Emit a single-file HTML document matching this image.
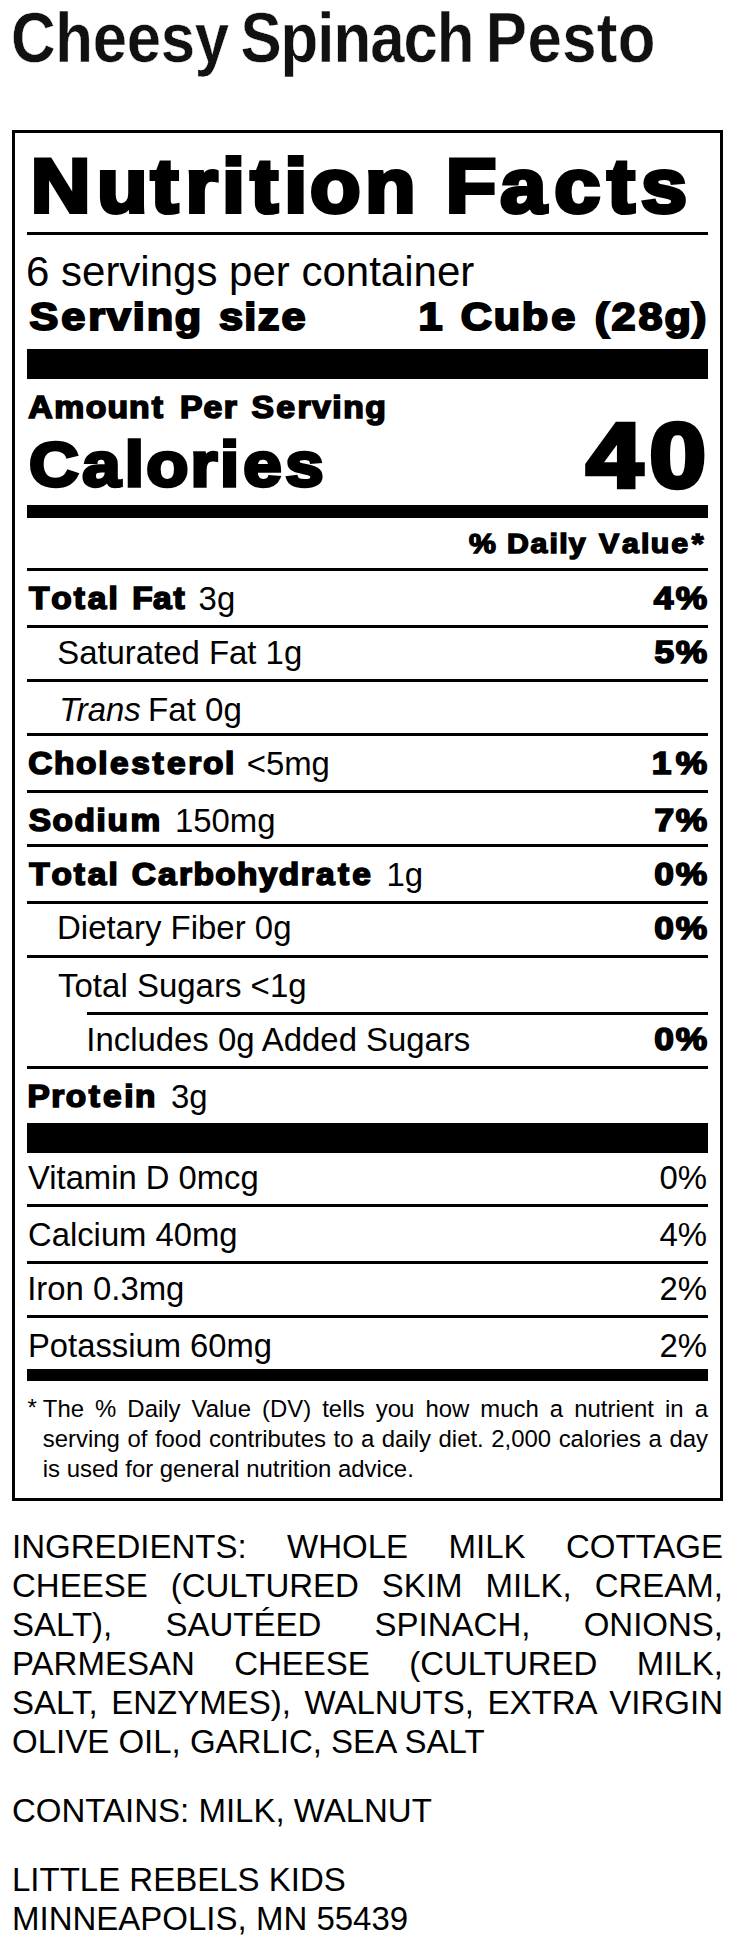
<!DOCTYPE html>
<html lang="en"><head><meta charset="utf-8"><title>Cheesy Spinach Pesto</title>
<style>
html,body{margin:0;padding:0;background:#fff;}
body{width:735px;height:1947px;position:relative;overflow:hidden;font-family:"Liberation Sans", sans-serif;color:#000;}
.t{position:absolute;white-space:nowrap;line-height:1;transform-origin:0 0;margin:0;padding:0;}
.j{position:absolute;line-height:1;margin:0;padding:0;text-align:justify;text-align-last:justify;white-space:normal;}
.jl{text-align:left;text-align-last:left;}
.b{font-weight:bold;}
.i{font-style:italic;}
.r0{position:absolute;background:#000;}
#box{position:absolute;left:12px;top:130px;width:705px;height:1365px;border:3px solid #000;}
#hv{position:absolute;left:0;top:0;width:735px;height:1947px;overflow:visible;}
#hv text{font-family:"Liberation Sans", sans-serif;font-weight:bold;fill:#000;stroke:#000;paint-order:fill stroke;stroke-linejoin:miter;white-space:pre;}
</style></head><body>
<div id="box"></div>
<div class="r0" style="left:27px;top:232px;width:681px;height:3px"></div>
<div class="r0" style="left:27px;top:349px;width:681px;height:30px"></div>
<div class="r0" style="left:27px;top:505px;width:681px;height:12.5px"></div>
<div class="r0" style="left:27px;top:568px;width:681px;height:3px"></div>
<div class="r0" style="left:27px;top:625px;width:681px;height:3px"></div>
<div class="r0" style="left:27px;top:679px;width:681px;height:3px"></div>
<div class="r0" style="left:27px;top:733px;width:681px;height:3px"></div>
<div class="r0" style="left:27px;top:790px;width:681px;height:3px"></div>
<div class="r0" style="left:27px;top:844px;width:681px;height:3px"></div>
<div class="r0" style="left:27px;top:901px;width:681px;height:3px"></div>
<div class="r0" style="left:27px;top:955px;width:681px;height:3px"></div>
<div class="r0" style="left:27px;top:1066px;width:681px;height:3px"></div>
<div class="r0" style="left:87px;top:1012px;width:621px;height:3px"></div>
<div class="r0" style="left:27px;top:1123px;width:681px;height:30px"></div>
<div class="r0" style="left:27px;top:1204px;width:681px;height:3px"></div>
<div class="r0" style="left:27px;top:1261px;width:681px;height:3px"></div>
<div class="r0" style="left:27px;top:1315px;width:681px;height:3px"></div>
<div class="r0" style="left:27px;top:1369px;width:681px;height:12px"></div>
<div class="t" style="left:26.00px;top:251px;font-size:42px;">6 servings per container</div>
<div class="t" style="left:198.60px;top:583px;font-size:32.9px;">3g</div>
<div class="t" style="left:57.20px;top:637px;font-size:32.9px;">Saturated Fat 1g</div>
<div class="t i" style="left:59.20px;top:694px;font-size:32.9px;">Trans</div>
<div class="t" style="left:147.79px;top:694px;font-size:32.9px;transform:scaleX(1.0072);">Fat 0g</div>
<div class="t" style="left:246.70px;top:748px;font-size:32.9px;">&lt;5mg</div>
<div class="t" style="left:174.90px;top:805px;font-size:32.9px;">150mg</div>
<div class="t" style="left:386.40px;top:859px;font-size:32.9px;">1g</div>
<div class="t" style="left:56.80px;top:912px;font-size:32.9px;transform:scaleX(1.0022);">Dietary Fiber 0g</div>
<div class="t" style="left:58.00px;top:970px;font-size:32.9px;transform:scaleX(1.0034);">Total Sugars &lt;1g</div>
<div class="t" style="left:86.30px;top:1024px;font-size:32.9px;">Includes 0g Added Sugars</div>
<div class="t" style="left:171.00px;top:1081px;font-size:32.9px;">3g</div>
<div class="t" style="left:28.20px;top:1162px;font-size:32.9px;transform:scaleX(0.9963);">Vitamin D 0mcg</div>
<div class="t" style="left:659.51px;top:1162px;font-size:32.9px;">0%</div>
<div class="t" style="left:28.00px;top:1219px;font-size:32.9px;transform:scaleX(0.9970);">Calcium 40mg</div>
<div class="t" style="left:659.51px;top:1219px;font-size:32.9px;">4%</div>
<div class="t" style="left:27.20px;top:1273px;font-size:32.9px;">Iron 0.3mg</div>
<div class="t" style="left:659.51px;top:1273px;font-size:32.9px;">2%</div>
<div class="t" style="left:28.21px;top:1330px;font-size:32.9px;transform:scaleX(0.9964);">Potassium 60mg</div>
<div class="t" style="left:659.51px;top:1330px;font-size:32.9px;">2%</div>
<div class="t" style="left:27.60px;top:1396px;font-size:23.93px;">*</div>
<div class="j" style="left:42.8px;top:1397px;width:665.2px;font-size:23.93px;">The % Daily Value (DV) tells you how much a nutrient in a</div>
<div class="j" style="left:42.8px;top:1427px;width:665.2px;font-size:23.93px;">serving of food contributes to a daily diet. 2,000 calories a day</div>
<div class="j jl" style="left:42.8px;top:1457px;width:665.2px;font-size:23.93px;">is used for general nutrition advice.</div>
<div class="j" style="left:12px;top:1530px;width:711px;font-size:33px;">INGREDIENTS: WHOLE MILK COTTAGE</div>
<div class="j" style="left:12px;top:1569px;width:711px;font-size:33px;">CHEESE (CULTURED SKIM MILK, CREAM,</div>
<div class="j" style="left:12px;top:1608px;width:711px;font-size:33px;">SALT), SAUTÉED SPINACH, ONIONS,</div>
<div class="j" style="left:12px;top:1647px;width:711px;font-size:33px;">PARMESAN CHEESE (CULTURED MILK,</div>
<div class="j" style="left:12px;top:1686px;width:711px;font-size:33px;">SALT, ENZYMES), WALNUTS, EXTRA VIRGIN</div>
<div class="j jl" style="left:12px;top:1725px;width:711px;font-size:33px;">OLIVE OIL, GARLIC, SEA SALT</div>
<div class="j jl" style="left:12px;top:1794px;width:711px;font-size:33px;">CONTAINS: MILK, WALNUT</div>
<div class="j jl" style="left:12px;top:1863px;width:711px;font-size:33px;">LITTLE REBELS KIDS</div>
<div class="j jl" style="left:12px;top:1902px;width:711px;font-size:33px;">MINNEAPOLIS, MN 55439</div>
<svg id="hv" width="735" height="1947" viewBox="0 0 735 1947">
<text transform="translate(0 61.81) scale(0.8750 1)" font-size="70.5" stroke-width="0.42" style="stroke:#fff;fill:#111;" x="12.67 63.18 105.89 144.76 183.63 222.5 261.71 274.8 320.47 362.59 381.24 423.07 461.1 499.07 542.13 555.15 602.73 642.45 682.06 705.97" y="0">Cheesy Spinach Pesto</text>
<text transform="translate(0 211.88) scale(1.0900 1)" font-size="75.98" stroke-width="4.05" x="28.2 89.05 138.27 170.08 203.76 229.87 260.87 284.51 334.97 381.38 409.06 458.91 508.45 557.12 588.12" y="0">Nutrition Facts</text>
<text transform="translate(0 329.74) scale(1.0900 1)" font-size="39.68" stroke-width="2.11" x="27.04 56.12 80.93 98.02 121.81 134.55 160.36 184.6 200.92 224.17 236.46 258.32" y="0">Serving size</text>
<text transform="translate(0 329.74) scale(1.0900 1)" font-size="39.68" stroke-width="2.11" x="384 406.07 422.75 452.93 478.75 505.66 527.73 545.71 560.96 585.82 609.59 634.78" y="0">1 Cube (28g)</text>
<text transform="translate(0 417.68) scale(1.0900 1)" font-size="30.95" stroke-width="1.65" x="25.85 49.68 78.75 98.57 118.39 139.2 149.51 165.22 186.75 205.18 217.23 230.71 253.45 272.85 286.23 304.83 314.81 335" y="0">Amount Per Serving</text>
<text transform="translate(0 485.71) scale(1.0900 1)" font-size="63.32" stroke-width="3.38" x="26.59 75.51 114.53 134.2 174.79 201.79 223.2 261.81" y="0">Calories</text>
<text transform="translate(0 487.14) scale(1.1100 1)" font-size="91.48" stroke-width="4.73" x="528.24 585.21" y="0">40</text>
<text transform="translate(0 552.66) scale(1.0900 1)" font-size="27.77" stroke-width="1.48" x="430.2 454.89 465.15 486.82 504.09 513.02 521.81 537.25 549.64 570.72 588.1 597 615.8 634.65" y="0">% Daily Value*</text>
<text transform="translate(0 608.98) scale(1.0900 1)" font-size="30.67" stroke-width="1.64" x="26.69 47.09 67.68 80.58 99.54 108.06 121.38 140.48 159.12" y="0">Total Fat</text>
<text transform="translate(0 608.98) scale(1.1200 1)" font-size="31.56" stroke-width="1.64" x="583.67 603.36" y="0">4%</text>
<text transform="translate(0 662.98) scale(1.1200 1)" font-size="31.56" stroke-width="1.64" x="584.27 603.36" y="0">5%</text>
<text transform="translate(0 774.08) scale(1.0900 1)" font-size="30.67" stroke-width="1.64" x="25.82 49.48 69.75 90.05 100.97 120.39 139.84 153.29 172.73 186.21 206.51" y="0">Cholesterol</text>
<text transform="translate(0 773.98) scale(1.1200 1)" font-size="31.56" stroke-width="1.64" x="581.93 603.36" y="0">1%</text>
<text transform="translate(0 831.18) scale(1.0900 1)" font-size="30.67" stroke-width="1.64" x="26.3 48.2 68.39 88.64 98.68 119.65" y="0">Sodium</text>
<text transform="translate(0 830.98) scale(1.1200 1)" font-size="31.56" stroke-width="1.64" x="584.27 603.36" y="0">7%</text>
<text transform="translate(0 885.08) scale(1.0900 1)" font-size="30.67" stroke-width="1.64" x="26.78 47.16 67.72 80.6 99.54 108.06 120.87 145.07 164.28 177.53 197.52 217.51 237.5 255.82 275.87 289.96 310.03 323.25" y="0">Total Carbohydrate</text>
<text transform="translate(0 885.08) scale(1.1200 1)" font-size="31.56" stroke-width="1.64" x="584.18 603.36" y="0">0%</text>
<text transform="translate(0 938.58) scale(1.1200 1)" font-size="31.56" stroke-width="1.64" x="584.18 603.36" y="0">0%</text>
<text transform="translate(0 1049.78) scale(1.1200 1)" font-size="31.56" stroke-width="1.64" x="584.18 603.36" y="0">0%</text>
<text transform="translate(0 1107.38) scale(1.0900 1)" font-size="30.67" stroke-width="1.64" x="25.23 47.03 60.34 81.32 94.61 113.92 123.86" y="0">Protein</text>
</svg>
</body></html>
